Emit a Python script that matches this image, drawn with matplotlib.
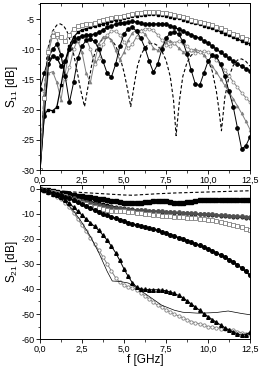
#---------------------------------------------------------------
#  S11 e S21 em funcao da frequencia (dois paineis)
#---------------------------------------------------------------
import numpy as np
import matplotlib
matplotlib.use("Agg")
import matplotlib.pyplot as plt
from matplotlib.ticker import MultipleLocator, FuncFormatter

plt.rcParams['font.family'] = ['Liberation Sans', 'DejaVu Sans']
plt.rcParams['mathtext.default'] = 'regular'

# frequencias (GHz) das curvas com marcadores, passo de 0,25
freq = np.arange(0, 12.5 + 0.01, 0.25)

# ---------------- S11 [dB] ----------------
# curva tracejada (sem marcadores)
s11_tr_f = [0, 0.25, 0.5, 0.75, 1.0, 1.2, 1.4, 1.6, 1.8, 2.0, 2.2, 2.4, 2.65, 2.9, 3.1,
            3.3, 3.5, 3.75, 4.0, 4.25, 4.5, 4.75, 5.0, 5.2, 5.4, 5.6, 5.8, 6.0, 6.25, 6.5,
            6.75, 7.0, 7.25, 7.5, 7.75, 7.95, 8.1, 8.3, 8.5, 8.75, 9.0, 9.25, 9.5, 9.75, 10.0,
            10.25, 10.5, 10.65, 10.8, 11.0, 11.25, 11.5, 11.75, 12.0, 12.25, 12.5]
s11_tr = [-30, -17, -9.5, -7.0, -6.0, -5.8, -6.1, -7.0, -8.6, -10.8, -13.5, -16.5, -19.5, -15.5, -12.2,
          -10.3, -9.0, -8.3, -8.1, -8.4, -9.4, -11.2, -13.8, -16.5, -19.5, -16.0, -12.8, -11.0, -9.7, -9.1,
          -9.0, -9.4, -10.3, -11.8, -14.5, -18.5, -24.3, -18.5, -14.5, -12.2, -11.0, -10.5, -10.4, -10.8, -11.8,
          -13.6, -17.0, -20.0, -23.5, -18.0, -14.5, -12.7, -11.8, -11.6, -12.0, -12.8]

s11_quad_aberto = [-30, -18, -10.5, -7.8, -7.4, -8.0, -8.6, -7.6, -6.6, -6.2,
                   -6.0, -5.9, -5.8, -5.6, -5.4, -5.2, -5.0, -4.85, -4.7, -4.6,
                   -4.45, -4.3, -4.15, -4.05, -3.95, -3.9, -3.85, -3.85, -3.9, -3.95,
                   -4.05, -4.2, -4.35, -4.5, -4.7, -4.9, -5.1, -5.3, -5.45, -5.6,
                   -5.8, -6.05, -6.3, -6.55, -6.8, -7.1, -7.4, -7.7, -8.0, -8.25, -8.5]

s11_preto_sup = [-30, -20.8, -20.0, -20.2, -19.6, -16, -12, -9.5, -8.0, -7.2,
                 -6.8, -6.6, -6.4, -6.2, -6.0, -5.8, -5.6, -5.4, -5.2, -5.0,
                 -4.85, -4.7, -4.55, -4.45, -4.35, -4.3, -4.25, -4.25, -4.3, -4.35,
                 -4.45, -4.6, -4.75, -4.9, -5.1, -5.3, -5.5, -5.7, -5.9, -6.1,
                 -6.3, -6.55, -6.8, -7.1, -7.4, -7.7, -8.0, -8.3, -8.6, -8.9, -9.1]

s11_circ = [-30, -21, -12.5, -11.2, -11.4, -12.8, -12, -10, -8.7, -8.1,
            -7.8, -7.7, -7.6, -7.5, -7.2, -6.8, -6.4, -6.1, -5.9, -5.7,
            -5.6, -5.5, -5.4, -5.5, -5.7, -5.9, -5.9, -5.85, -5.8, -5.8,
            -5.9, -6.1, -6.4, -6.7, -7.0, -7.3, -7.6, -7.9, -8.2, -8.6,
            -9.0, -9.5, -10.0, -10.5, -11.0, -11.5, -12.0, -12.4, -12.8, -13.2, -13.6]

s11_circ_vales = [-16.6, -14, -11.5, -10, -9.2, -11, -14.5, -18.8, -15.5, -11.5,
                  -9.5, -8.5, -8.3, -8.7, -10, -12, -14, -14.6, -12.5, -9.5,
                  -7.5, -6.6, -6.4, -7.0, -8.2, -9.8, -12, -13.8, -12.5, -10,
                  -8.2, -7.3, -7.1, -7.5, -8.7, -10.8, -13.5, -15.8, -16.0, -14,
                  -12, -11, -11.2, -12.5, -14.5, -17, -19.5, -23, -26.5, -26, -24.5]

s11_cinza1 = [-30, -17, -10, -7.2, -8.0, -11, -15, -13, -10, -8.4,
              -7.8, -8.2, -10, -12.5, -11.5, -9.2, -7.7, -7.0, -7.0, -7.6,
              -8.8, -9.8, -9.2, -7.9, -7.0, -6.6, -6.6, -6.9, -7.6, -8.5,
              -9.3, -9.4, -8.9, -8.7, -8.9, -9.5, -10.2, -10.6, -10.5, -10.3,
              -10.5, -11, -11.8, -12.6, -13.5, -14.4, -15.4, -16.3, -17.2, -18.0, -18.8]

s11_cinza2 = [-30, -20, -14, -13.7, -15.5, -18.4, -14, -10, -8.5, -8.6,
              -10.5, -14, -15.5, -12, -9.2, -8.0, -7.8, -8.5, -10.2, -11.8,
              -10.5, -8.5, -7.3, -6.8, -6.9, -7.5, -8.6, -9.8, -10.2, -9.5,
              -8.8, -8.6, -9.0, -9.8, -10.4, -10.5, -10.2, -10.0, -10.3, -11.0,
              -11.9, -12.8, -13.8, -14.9, -16.0, -17.1, -18.2, -19.4, -20.6, -21.9, -23.3]

# ---------------- S21 [dB] ----------------
s21_tr_f = [0, 1, 2, 3, 4, 5, 5.5, 6, 7, 8, 9, 10, 11, 12, 12.5]
s21_tr = [0, -0.7, -1.2, -1.6, -2.0, -2.4, -2.5, -2.3, -1.9, -1.6, -1.4, -1.2, -1.0, -0.8, -0.7]

s21_fino_f = [0, 0.5, 1, 1.5, 2, 2.5, 3, 3.5, 4, 4.3, 4.75, 5.25, 5.75, 6.5, 7.25,
              8, 8.5, 9.5, 10.5, 11.2, 12, 12.5]
s21_fino = [0, -1.5, -3.2, -5.3, -8.8, -13.5, -19.0, -25.5, -33.0, -36.8, -37.0, -37.6, -39.5, -43.0, -46.5,
            -48.5, -49.3, -49.7, -49.4, -48.8, -49.8, -50.3]

s21_quad = [0, -0.3, -0.6, -0.9, -1.2, -1.5, -1.8, -2.1, -2.4, -2.65,
            -2.9, -3.15, -3.4, -3.65, -3.9, -4.15, -4.4, -4.65, -4.9, -5.2,
            -5.45, -5.65, -5.75, -5.7, -5.55, -5.3, -5.1, -4.9, -4.8, -4.85,
            -5.0, -5.25, -5.45, -5.6, -5.6, -5.4, -5.1, -4.8, -4.55, -4.4,
            -4.3, -4.3, -4.35, -4.45, -4.5, -4.55, -4.55, -4.5, -4.45, -4.45, -4.5]

s21_cinza_esc = [0, -0.45, -0.9, -1.35, -1.8, -2.3, -2.8, -3.3, -3.8, -4.3,
                 -4.8, -5.3, -5.8, -6.2, -6.6, -6.9, -7.2, -7.4, -7.6, -7.8,
                 -8.0, -8.1, -8.25, -8.4, -8.5, -8.6, -8.7, -8.8, -8.9, -9.0,
                 -9.1, -9.2, -9.3, -9.4, -9.5, -9.6, -9.7, -9.8, -9.9, -10.0,
                 -10.1, -10.2, -10.35, -10.45, -10.6, -10.7, -10.8, -10.9, -11.0, -11.1, -11.2]

s21_preto_peq = [0, -0.4, -0.8, -1.2, -1.6, -2.0, -2.45, -2.9, -3.3, -3.7,
                 -4.1, -4.6, -5.0, -5.4, -5.8, -6.2, -6.6, -6.9, -7.2, -7.5,
                 -7.8, -8.0, -8.2, -8.4, -8.6, -8.7, -8.8, -8.9, -9.0, -9.1,
                 -9.25, -9.4, -9.5, -9.6, -9.7, -9.8, -9.9, -10.0, -10.1, -10.2,
                 -10.3, -10.45, -10.6, -10.7, -10.8, -10.95, -11.1, -11.2, -11.3, -11.45, -11.6]

s21_quad_aberto = [0, -0.4, -0.8, -1.3, -1.8, -2.4, -3.0, -3.6, -4.3, -4.9,
                   -5.6, -6.2, -6.8, -7.3, -7.8, -8.2, -8.5, -8.7, -8.9, -9.0,
                   -9.0, -9.1, -9.2, -9.45, -9.7, -9.95, -10.2, -10.4, -10.6, -10.75,
                   -10.9, -11.0, -11.1, -11.2, -11.3, -11.45, -11.6, -11.75, -11.9, -12.1,
                   -12.3, -12.55, -12.8, -13.15, -13.5, -13.95, -14.4, -14.9, -15.4, -15.9, -16.4]

s21_circ = [0, -0.5, -1.0, -1.5, -2.0, -2.55, -3.1, -3.8, -4.6, -5.4,
            -6.2, -7.0, -7.8, -8.55, -9.3, -10.0, -10.6, -11.15, -11.7, -12.3,
            -12.9, -13.5, -14.0, -14.45, -14.9, -15.3, -15.7, -16.15, -16.6, -17.15,
            -17.7, -18.3, -18.9, -19.45, -20.0, -20.65, -21.3, -21.95, -22.6, -23.3,
            -24.0, -24.8, -25.6, -26.45, -27.3, -28.25, -29.2, -30.4, -31.6, -33.0, -34.5]

s21_tri = [0, -0.6, -1.2, -1.85, -2.5, -3.3, -4.3, -5.7, -7.3, -8.9,
           -10.5, -12.0, -13.5, -15.0, -16.6, -18.5, -20.5, -22.9, -25.5, -28.6,
           -32.0, -35.0, -37.5, -39.2, -40.0, -40.2, -40.3, -40.3, -40.3, -40.5,
           -40.7, -41.2, -41.8, -42.6, -43.5, -44.7, -46.0, -47.2, -48.5, -49.8,
           -51.0, -52.2, -53.3, -54.4, -55.5, -56.4, -57.2, -57.9, -58.5, -58.2, -57.3]

s21_circ_aberto = [0, -0.7, -1.5, -2.3, -3.2, -4.2, -5.5, -7.3, -9.5, -12.0,
                   -14.5, -17.0, -19.5, -22.0, -24.5, -27.2, -30.0, -32.8, -35.5, -37.3,
                   -38.5, -39.1, -39.5, -40.4, -41.5, -42.8, -44.0, -45.3, -46.5, -47.4,
                   -48.3, -49.2, -50.0, -50.8, -51.5, -52.3, -53.0, -53.5, -54.0, -54.5,
                   -55.0, -55.3, -55.5, -55.8, -56.0, -56.3, -56.5, -57.0, -57.5, -57.8, -58.0]

cinza = '#808080'
cinza_esc = '#505050'

fig = plt.figure(figsize=(2.61, 3.68), dpi=100)
ax1 = fig.add_axes([0.1533, 0.538, 0.8046, 0.4538])
ax2 = fig.add_axes([0.1533, 0.0788, 0.8046, 0.4185])

# painel superior - S11
ax1.plot(s11_tr_f, s11_tr, color='black', lw=0.8, ls=(0, (3, 2)))
ax1.plot(freq, s11_cinza2, color=cinza, lw=0.7, marker='^', ms=2.2, mfc=cinza, mec=cinza, mew=0.4)
ax1.plot(freq, s11_cinza1, color=cinza, lw=0.7, marker='o', ms=2.2, mfc='white', mec=cinza, mew=0.5)
ax1.plot(freq, s11_circ_vales, color='black', lw=0.7, marker='o', ms=2.4, mfc='black', mec='black')
ax1.plot(freq, s11_circ, color='black', lw=0.9, marker='o', ms=2.4, mfc='black', mec='black')
ax1.plot(freq, s11_preto_sup, color='black', lw=0.9, marker='s', ms=2.0, mfc='black', mec='black')
ax1.plot(freq, s11_quad_aberto, color=cinza, lw=0.7, marker='s', ms=2.6, mfc='white', mec=cinza, mew=0.6)

# painel inferior - S21
ax2.plot(s21_tr_f, s21_tr, color='black', lw=0.8, ls=(0, (3, 2)))
ax2.plot(freq, s21_quad, color='black', lw=0.7, marker='s', ms=2.6, mfc='black', mec='black')
ax2.plot(freq, s21_preto_peq, color='black', lw=0.9, marker='o', ms=1.9, mfc='black', mec='black')
ax2.plot(freq, s21_cinza_esc, color=cinza_esc, lw=0.9, marker='o', ms=2.4, mfc=cinza_esc, mec=cinza_esc)
ax2.plot(freq, s21_quad_aberto, color=cinza, lw=0.7, marker='s', ms=2.6, mfc='white', mec=cinza, mew=0.6)
ax2.plot(freq, s21_circ, color='black', lw=1.1, marker='o', ms=2.6, mfc='black', mec='black')
ax2.plot(freq, s21_circ_aberto, color=cinza, lw=0.7, marker='o', ms=2.4, mfc='white', mec=cinza, mew=0.6)
ax2.plot(freq, s21_tri, color='black', lw=0.7, marker='^', ms=2.6, mfc='black', mec='black')
ax2.plot(s21_fino_f, s21_fino, color='black', lw=0.5)

virgula = FuncFormatter(lambda v, p: ('%.1f' % v).replace('.', ','))
inteiro = FuncFormatter(lambda v, p: '%d' % round(v))

for ax in (ax1, ax2):
    ax.set_xlim(0, 12.5)
    ax.xaxis.set_major_locator(MultipleLocator(2.5))
    ax.xaxis.set_minor_locator(MultipleLocator(1.25))
    ax.xaxis.set_major_formatter(virgula)
    ax.yaxis.set_major_formatter(inteiro)
    ax.tick_params(axis='both', which='major', direction='out', length=3, width=0.6,
                   labelsize=6.5, pad=1)
    ax.tick_params(axis='both', which='minor', direction='out', length=1.8, width=0.5)
    for s in ax.spines.values():
        s.set_linewidth(0.7)

    # no eixo superior as marcas ficam para dentro
    sec = ax.secondary_xaxis('top')
    sec.xaxis.set_major_locator(MultipleLocator(2.5))
    sec.xaxis.set_minor_locator(MultipleLocator(1.25))
    sec.tick_params(which='major', direction='in', length=3, width=0.6, labeltop=False)
    sec.tick_params(which='minor', direction='in', length=1.8, width=0.5)
    sec.spines['top'].set_linewidth(0.7)

ax1.set_ylim(-30, -2.35)
ax1.yaxis.set_major_locator(MultipleLocator(5))
ax1.yaxis.set_minor_locator(MultipleLocator(2.5))
ax1.set_ylabel('S$_{11}$ [dB]', fontsize=8.5, labelpad=1)

ax2.set_ylim(-60, 1.6)
ax2.yaxis.set_major_locator(MultipleLocator(10))
ax2.yaxis.set_minor_locator(MultipleLocator(5))
ax2.set_ylabel('S$_{21}$ [dB]', fontsize=8.5, labelpad=1)
ax2.set_xlabel('f [GHz]', fontsize=8.5, labelpad=0)

fig.savefig('out.png', dpi=100)
